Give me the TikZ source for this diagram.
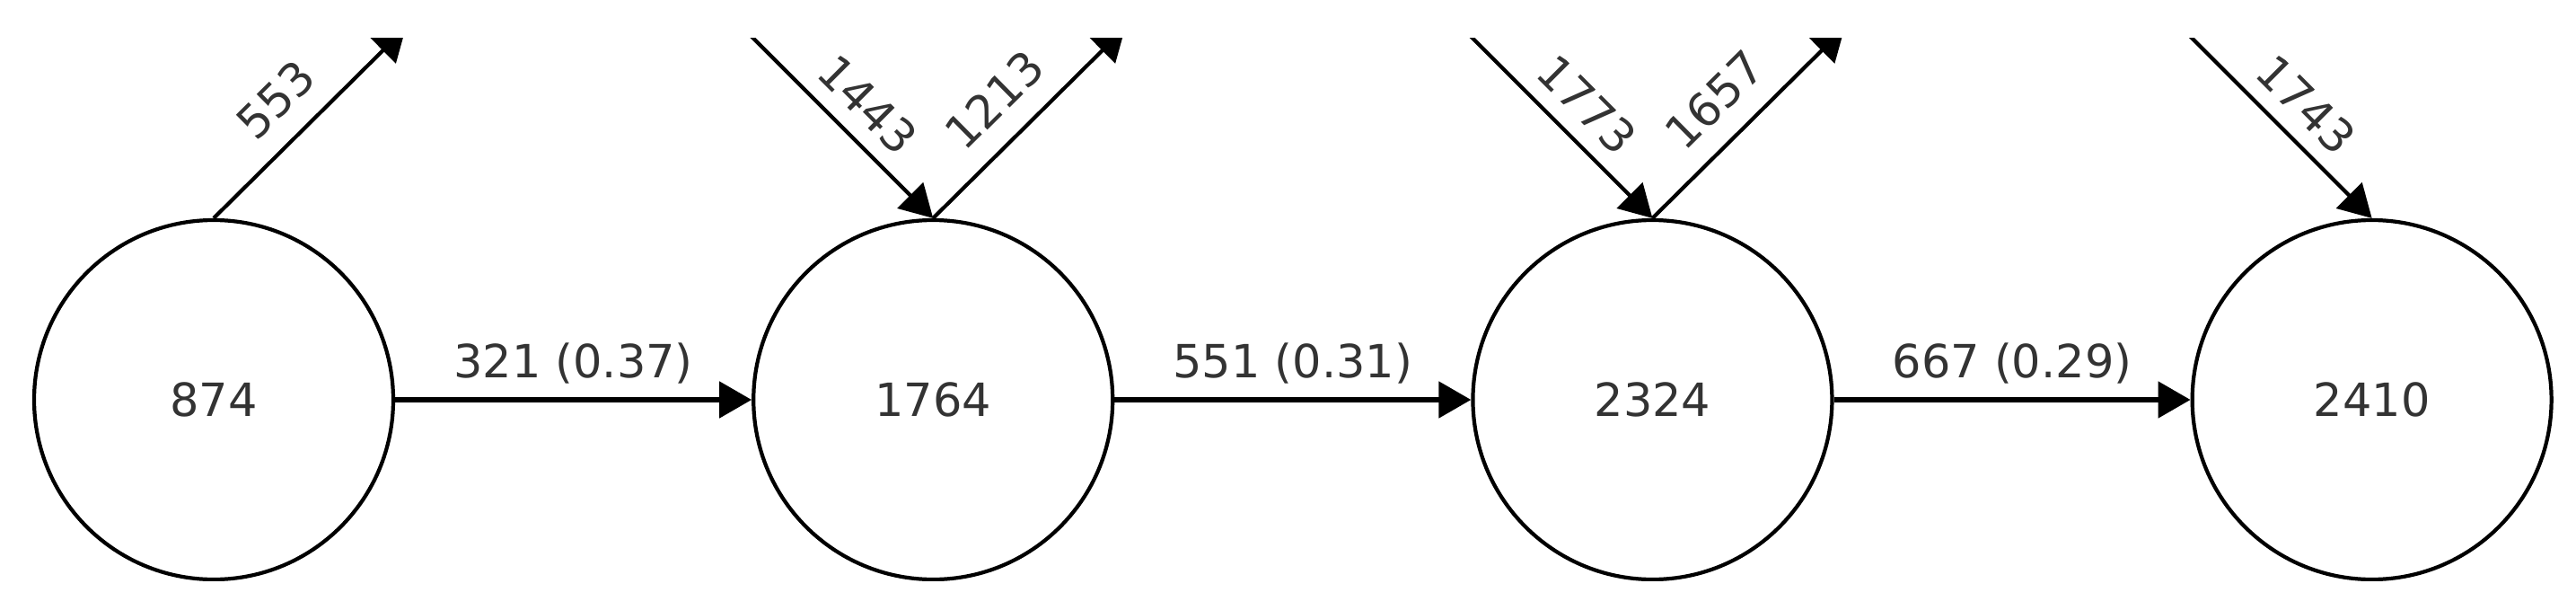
\documentclass[tikz,border=0pt]{standalone}
\usepackage{fontspec}
\setmainfont{DejaVu Sans}
\usetikzlibrary{positioning,arrows.meta}
\definecolor{txtgray}{HTML}{333333}
\begin{document}
\begin{tikzpicture}[
  circ/.style={draw, circle, minimum size=4cm, inner sep=0pt, line width=1.2pt,
    text=txtgray, font=\fontsize{14.5}{17}\selectfont},
  flow/.style={-{Triangle[length=0.36cm,width=0.4cm]}, line width=1.2pt},
  lbl/.style={text=txtgray, font=\fontsize{14.5}{17}\selectfont},
  node distance=3.97cm]
\useasboundingbox (-2.38,-2.33) rectangle (26.31,4.45);
\begin{scope} % start of clip scope
\clip (-2.38,-2.01) rectangle (26.31,4.02);
% the four states
\node[circ] (c1) at (0,0) {874};
\node[circ, right=of c1] (c2) {1764};
\node[circ, right=of c2] (c3) {2324};
\node[circ, right=of c3] (c4) {2410};
% free ends of the diagonal arrows
\coordinate (o1) at ([shift={(2.14,2.12)}]c1.north);
\coordinate (i2) at ([shift={(-2.12,2.12)}]c2.north);
\coordinate (o2) at ([shift={(2.14,2.12)}]c2.north);
\coordinate (i3) at ([shift={(-2.12,2.12)}]c3.north);
\coordinate (o3) at ([shift={(2.14,2.12)}]c3.north);
\coordinate (i4) at ([shift={(-2.12,2.12)}]c4.north);
% horizontal flows
\draw[flow, line width=1.5pt] (c1) -- node[lbl, above=1pt] {321 (0.37)} (c2);
\draw[flow, line width=1.5pt] (c2) -- node[lbl, above=1pt] {551 (0.31)} (c3);
\draw[flow, line width=1.5pt] (c3) -- node[lbl, above=1pt] {667 (0.29)} (c4);
% diagonal flows
\draw[flow] (c1.north) -- node[lbl, sloped, above=3.5pt, pos=0.47] {553} (o1);
\draw[flow] (i2) -- node[lbl, sloped, above=1.3pt, pos=0.53] {1443} (c2.north);
\draw[flow] (c2.north) -- node[lbl, sloped, above=3.5pt, pos=0.47] {1213} (o2);
\draw[flow] (i3) -- node[lbl, sloped, above=1.3pt, pos=0.53] {1773} (c3.north);
\draw[flow] (c3.north) -- node[lbl, sloped, above=3.5pt, pos=0.47] {1657} (o3);
\draw[flow] (i4) -- node[lbl, sloped, above=1.3pt, pos=0.53] {1743} (c4.north);
\end{scope} % end of clip scope
\end{tikzpicture}
\end{document}
